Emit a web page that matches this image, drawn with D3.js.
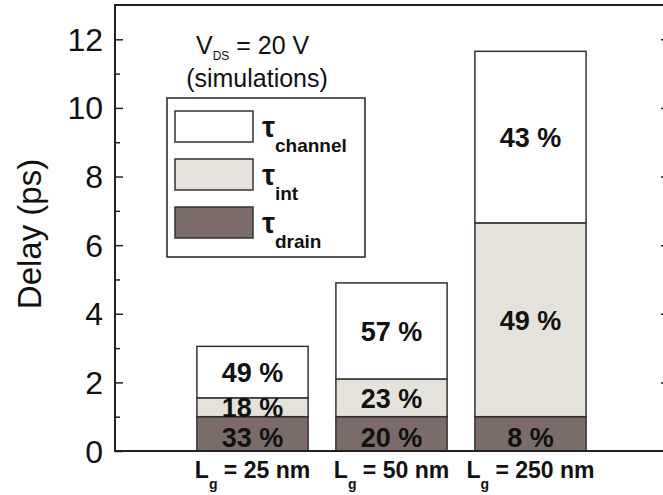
<!DOCTYPE html>
<html>
<head>
<meta charset="utf-8">
<script src="https://cdn.jsdelivr.net/npm/d3@7"></script>
<style>
body { margin: 0; background: #fff; overflow: hidden; }
text { font-family: "Liberation Sans", Arial, sans-serif; fill: #111; }
.tick-label { font-size: 32px; }
.pct { font-size: 27px; font-weight: bold; }
.xlab { font-size: 23px; font-weight: bold; }
</style>
</head>
<body>
<svg width="663" height="495"></svg>
<script>
// data
const gateLengths = ['25', '50', '250'];
const tauDrain   = [1.0, 1.0, 1.0];
const tauInt     = [0.55, 1.1, 5.65];
const tauChannel = [1.5, 2.8, 5.0];
const pctDrain   = ['33 %', '20 %', '8 %'];
const pctInt     = ['18 %', '23 %', '49 %'];
const pctChannel = ['49 %', '57 %', '43 %'];
const yTicks = [0, 2, 4, 6, 8, 10, 12];
const yMinorTicks = [1, 3, 5, 7, 9, 11];

const svg = d3.select('svg');
const plotLeft = 115, plotRight = 668, plotTop = 5, plotBottom = 451;

const y = d3.scaleLinear().domain([0, 13]).range([plotBottom, plotTop]);
const x = d3.scaleBand().domain(gateLengths).range([183, 600])
  .paddingInner(0.2).paddingOuter(0.1);

const series = [
  { key: 'drain', vals: tauDrain, pct: pctDrain, fill: '#7b6c69', dy: 13 },
  { key: 'int', vals: tauInt, pct: pctInt, fill: '#e4e2da', dy: 10 },
  { key: 'channel', vals: tauChannel, pct: pctChannel, fill: '#ffffff', dy: 10 }
];

// stack
const rows = gateLengths.map((g, i) => ({ g, drain: tauDrain[i], int: tauInt[i], channel: tauChannel[i] }));
const stack = d3.stack().keys(series.map(s => s.key))(rows);

stack.forEach((layer, si) => {
  const s = series[si];
  svg.append('g').selectAll('rect').data(layer).enter().append('rect')
    .attr('x', d => x(d.data.g))
    .attr('width', x.bandwidth())
    .attr('y', d => y(d[1]))
    .attr('height', d => y(d[0]) - y(d[1]))
    .attr('fill', s.fill)
    .attr('stroke', '#333')
    .attr('stroke-width', 1.5);
});
stack.forEach((layer, si) => {
  const s = series[si];
  svg.append('g').selectAll('text').data(layer).enter().append('text')
    .attr('class', 'pct')
    .attr('text-anchor', 'middle')
    .attr('x', d => x(d.data.g) + x.bandwidth() / 2)
    .attr('y', d => (y(d[0]) + y(d[1])) / 2 + s.dy)
    .text((d, i) => s.pct[i]);
});

// frame
svg.append('rect').attr('x', plotLeft).attr('y', plotTop)
  .attr('width', plotRight - plotLeft).attr('height', plotBottom - plotTop)
  .attr('fill', 'none').attr('stroke', '#222').attr('stroke-width', 2);

// left axis ticks (inward)
const yAxis = d3.axisRight(y).tickValues(yTicks).tickSize(8).tickFormat('');
const yAxisG = svg.append('g').attr('transform', `translate(${plotLeft},0)`).call(yAxis);
yAxisG.select('.domain').remove();
yAxisG.selectAll('.tick line').attr('stroke', '#222').attr('stroke-width', 1.5);
const yMinor = d3.axisRight(y).tickValues(yMinorTicks).tickSize(5).tickFormat('');
const yMinorG = svg.append('g').attr('transform', `translate(${plotLeft},0)`).call(yMinor);
yMinorG.select('.domain').remove();
yMinorG.selectAll('.tick line').attr('stroke', '#222').attr('stroke-width', 1.5);

// right side ticks (inward)
const yRight = d3.axisLeft(y).tickValues(yTicks.slice(1)).tickSize(7).tickFormat('');
const yRightG = svg.append('g').attr('transform', `translate(${plotRight},0)`).call(yRight);
yRightG.select('.domain').remove();
yRightG.selectAll('.tick line').attr('stroke', '#222').attr('stroke-width', 1.5);

// tick labels
svg.append('g').selectAll('text').data(yTicks).enter().append('text')
  .attr('class', 'tick-label')
  .attr('text-anchor', 'end')
  .attr('x', 103)
  .attr('y', d => y(d) + 11.5)
  .text(d => d);

// y label
svg.append('text')
  .attr('transform', 'rotate(-90)')
  .attr('x', -234).attr('y', 41)
  .attr('text-anchor', 'middle')
  .style('font-size', '33px')
  .text('Delay (ps)');

// x labels
const xl = svg.append('g').selectAll('text').data(gateLengths).enter().append('text')
  .attr('class', 'xlab')
  .attr('text-anchor', 'middle')
  .attr('x', d => x(d) + x.bandwidth() / 2)
  .attr('y', 478);
xl.append('tspan').text('L');
xl.append('tspan').attr('dy', 11).style('font-size', '14px').text('g');
xl.append('tspan').attr('dy', -11).text(d => ' = ' + d + ' nm');

// annotation
const ann = svg.append('text').attr('x', 196).attr('y', 54).style('font-size', '25px');
ann.append('tspan').text('V');
ann.append('tspan').attr('dy', 6).style('font-size', '12px').text('DS');
ann.append('tspan').attr('dy', -6).text(' = 20 V');
svg.append('text').attr('x', 257).attr('y', 87).attr('text-anchor', 'middle')
  .style('font-size', '25px').text('(simulations)');

// legend
const legendLabels = ['channel', 'int', 'drain'];
const legendFills = ['#ffffff', '#e4e2da', '#7b6c69'];
svg.append('rect').attr('x', 167).attr('y', 98).attr('width', 198).attr('height', 159)
  .attr('fill', '#fff').attr('stroke', '#222').attr('stroke-width', 1.5);
const lg = svg.append('g').selectAll('g').data(legendLabels).enter().append('g')
  .attr('transform', (d, i) => `translate(175,${111 + i * 48})`);
lg.append('rect').attr('width', 78).attr('height', 31)
  .attr('fill', (d, i) => legendFills[i]).attr('stroke', '#333').attr('stroke-width', 1.5);
const lt = lg.append('text').attr('x', 87).attr('y', 26).style('font-weight', 'bold');
lt.append('tspan').style('font-size', '29px').text('τ');
lt.append('tspan').attr('dy', 15).style('font-size', '19px').text(d => d);
</script>
</body>
</html>
